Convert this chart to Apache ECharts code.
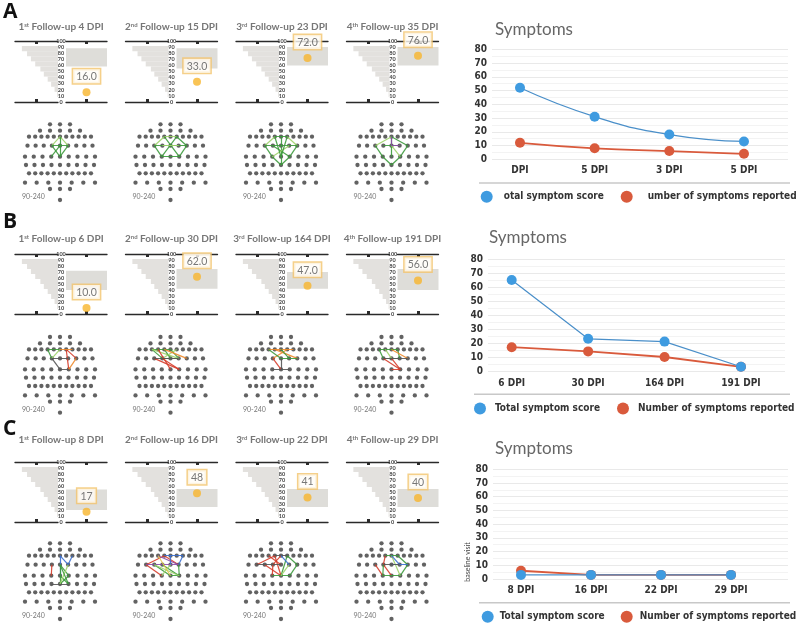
<!DOCTYPE html>
<html><head><meta charset="utf-8">
<script src="https://cdn.jsdelivr.net/npm/echarts@6/dist/echarts.min.js"></script>
<style>html,body{margin:0;padding:0;background:#fff}#c{width:800px;height:630px}</style>
</head><body><div id="c"></div>
<script>
// ---------------- DATA ----------------
const ordinalNums = ['1', '2', '3', '4'];
const ordinalSups = ['st', 'nd', 'rd', 'th'];
const followUpDaysA = [4, 15, 23, 35];
const followUpDaysB = [6, 30, 164, 191];
const followUpDaysC = [8, 16, 22, 29];
const scoreValuesA = [16, 33, 72, 76];
const scoreValuesB = [10, 62, 47, 56];
const scoreValuesC = [17, 48, 41, 40];
const scoreLabelsA = ['16.0', '33.0', '72.0', '76.0'];
const scoreLabelsB = ['10.0', '62.0', '47.0', '56.0'];
const scoreLabelsC = ['17', '48', '41', '40'];
const normalBandA = [[58, 88], [55, 88], [60, 90], [60, 90]];
const normalBandB = [[40, 72], [42, 75], [42, 70], [40, 75]];
const normalBandC = [[20, 54], [25, 55], [25, 55], [25, 55]];
const histBins = ['b0', 'b1', 'b2', 'b3', 'b4', 'b5', 'b6', 'b7', 'b8', 'b9', 'b10', 'b11'];
const histShares = [0, 0.02, 0.08, 0.16, 0.24, 0.33, 0.41, 0.53, 0.63, 0.72, 0.84, 0];
const rangeLabel = '90-240';

const symptomCatsA = ['DPI', '5 DPI', '3 DPI', '5 DPI'];
const totalScoreA = [52, 31, 18, 13];
const numSymptomsA = [12, 8, 6, 4];
const symptomCatsB = ['6 DPI', '30 DPI', '164 DPI', '191 DPI'];
const totalScoreB = [65, 23, 21, 3];
const numSymptomsB = [17, 14, 10, 3];
const symptomCatsC = ['8 DPI', '16 DPI', '22 DPI', '29 DPI'];
const totalScoreC = [3, 3, 3, 3];
const numSymptomsC = [6, 3, 3, 3];
const legendNamesA = ['otal symptom score', 'umber of symptoms reported'];
const legendNamesBC = ['Total symptom score', 'Number of symptoms reported'];

// connectivity edges: [row1, col1, row2, col2, colour]
const edgesA = [
  [[3,3,2,5,'lg'],[2,5,3,5,'lg'],[3,5,4,4,'g'],[4,4,3,3,'g'],[3,3,3,5,'g'],[2,5,4,4,'g'],[3,4,4,3,'g']],
  [[3,2,2,4,'lg'],[2,4,2,6,'lg'],[2,6,3,6,'g'],[3,6,4,5,'g'],[4,5,4,3,'g'],[4,3,3,2,'g'],[3,2,3,6,'g'],[2,4,4,5,'g'],[2,6,4,3,'g'],[3,3,3,5,'lg']],
  [[3,2,2,4,'lg'],[2,4,2,6,'g'],[2,6,3,6,'lg'],[3,6,4,5,'g'],[4,5,5,4,'g'],[5,4,4,3,'g'],[4,3,3,2,'g'],[3,2,3,6,'g'],[2,5,5,4,'g'],[3,3,4,5,'g'],[3,5,4,3,'lg'],[2,4,4,4,'g'],[2,6,4,4,'g']],
  [[3,2,2,5,'lg'],[2,5,3,6,'g'],[3,6,4,5,'g'],[4,5,5,4,'g'],[5,4,4,3,'g'],[4,3,3,2,'g'],[3,3,3,5,'g'],[2,5,4,4,'g'],[3,4,4,5,'lg'],[3,4,3,5,'p'],[2,5,3,4,'p']]
];
const edgesB = [
  [[2,3,3,3,'g'],[2,3,2,5,'g'],[3,3,2,5,'lg'],[2,6,3,6,'r'],[2,6,4,5,'r'],[3,6,4,5,'o'],[3,3,4,4,'d'],[4,4,4,5,'d'],[3,3,3,5,'d'],[2,5,2,7,'o']],
  [[2,2,2,5,'g'],[2,5,3,5,'g'],[3,5,3,3,'g'],[3,3,2,2,'g'],[2,2,3,5,'lg'],[2,4,3,4,'g'],[2,6,3,3,'lg'],[3,3,4,5,'r'],[3,2,4,5,'r'],[2,3,4,4,'r'],[2,4,3,6,'o'],[3,2,3,5,'d']],
  [[2,3,2,7,'o'],[2,4,3,6,'o'],[2,6,3,3,'o'],[2,3,3,4,'g'],[3,4,3,6,'g'],[2,5,3,5,'g'],[3,3,4,4,'r'],[3,4,4,4,'d'],[4,3,4,5,'d']],
  [[2,3,2,6,'g'],[2,6,3,5,'g'],[3,5,3,3,'g'],[3,3,2,3,'g'],[2,4,3,4,'lg'],[3,4,4,5,'r'],[3,3,4,5,'r'],[4,4,4,5,'r'],[2,5,3,6,'o'],[3,3,3,6,'d']]
];
const edgesC = [
  [[2,5,3,5,'b'],[3,5,2,7,'b'],[2,5,4,4,'b'],[3,4,4,5,'g'],[4,5,5,4,'g'],[5,4,3,4,'g'],[4,4,5,5,'g'],[3,5,5,4,'lg'],[3,4,5,5,'g'],[3,3,4,3,'r'],[5,3,5,5,'d']],
  [[3,1,2,4,'r'],[2,4,3,5,'r'],[3,1,4,3,'r'],[2,3,3,5,'p'],[3,1,3,5,'p'],[2,4,2,7,'b'],[2,7,3,5,'b'],[2,5,3,4,'b'],[3,2,4,4,'g'],[4,4,4,5,'g'],[4,5,3,5,'g'],[3,3,4,5,'g'],[3,2,4,5,'lg'],[4,3,3,4,'lg'],[2,3,4,4,'y']],
  [[3,1,2,4,'r'],[2,4,4,4,'r'],[3,2,4,4,'r'],[2,3,3,4,'r'],[3,3,4,3,'r'],[2,5,3,3,'r'],[2,6,3,6,'g'],[3,6,4,5,'g'],[4,5,4,3,'g'],[2,6,4,4,'g'],[3,5,4,4,'lg'],[2,4,2,6,'d'],[3,1,3,4,'d'],[2,5,3,5,'b']],
  [[2,4,3,3,'r'],[3,3,4,4,'r'],[3,2,4,3,'r'],[2,4,2,6,'g'],[2,6,3,6,'g'],[3,6,4,5,'g'],[4,5,4,3,'g'],[4,3,3,3,'g'],[2,5,4,5,'lg'],[2,5,3,5,'b'],[3,4,3,6,'b'],[3,3,3,5,'d']]
];

// ---------------- LAYOUT / STYLE ----------------
const FONT = 'Lato, "Noto Sans", sans-serif';
const COND = '"DejaVu Sans Condensed", "Liberation Sans Narrow", Roboto, sans-serif';
const edgeColors = {g:'#3c9a3c', lg:'#9ed36a', r:'#d63c2a', o:'#ee8a2a', d:'#555555', b:'#3a6fd0', p:'#8b4aa6', y:'#e6c84a'};
const electrodeRowCounts = [3, 5, 11, 9, 9, 9, 11, 7, 3, 1];
const electrodeRowHalf = [10, 20, 31, 32.5, 35, 34, 31, 35, 10, 0];
const electrodeRowY = [4, 10.4, 16.4, 25.4, 36.4, 44.7, 53, 62.4, 68.7, 79.7];
function E(r, c) {
  const n = electrodeRowCounts[r], h = electrodeRowHalf[r];
  const x = n === 1 ? 0 : -h + c * (2 * h / (n - 1));
  return [x, electrodeRowY[r]];
}
const electrodes = [];
electrodeRowCounts.forEach((n, r) => { for (let c = 0; c < n; c++) electrodes.push(E(r, c)); });

const colX0 = [15, 125.5, 236, 346.5];
const gaugeTop = [41, 254, 462], gaugeH = [61, 60, 60];
const titleY = [29, 241, 442], dotTop = [124.3, 337, 543.3];

const rowsData = [
  {days: followUpDaysA, vals: scoreValuesA, labs: scoreLabelsA, bands: normalBandA, edges: edgesA},
  {days: followUpDaysB, vals: scoreValuesB, labs: scoreLabelsB, bands: normalBandB, edges: edgesB},
  {days: followUpDaysC, vals: scoreValuesC, labs: scoreLabelsC, bands: normalBandC, edges: edgesC}
];

const grids = [], xAxes = [], yAxes = [], series = [], titles = [], legends = [], graphics = [];
const addGrid = g => (grids.push(g), grids.length - 1);
const addX = a => (xAxes.push(a), xAxes.length - 1);
const addY = a => (yAxes.push(a), yAxes.length - 1);

function lineAxis(gi, pos, inverse) {
  return {type: 'value', gridIndex: gi, position: pos, min: 0, max: 1, inverse: !!inverse,
    axisLine: {show: true, onZero: false, lineStyle: {color: '#2a2a2a', width: 1.3}},
    axisTick: {show: true, customValues: [0.5], inside: true, length: 3, lineStyle: {color: '#2a2a2a', width: 3}},
    axisLabel: {show: false}, splitLine: {show: false}};
}

const letters = ['A', 'B', 'C'];
const letterTop = [2, 212, 419];
letters.forEach((L, r) => titles.push({text: L, left: 3, top: letterTop[r], padding: 0,
  textStyle: {fontSize: 21, fontWeight: 'bold', color: '#111', fontFamily: '"Open Sans", "Liberation Sans", sans-serif'}}));

rowsData.forEach((rd, r) => {
  for (let i = 0; i < 4; i++) {
    const x0 = colX0[i];
    titles.push({
      text: `{n|${ordinalNums[i]}}{s|${ordinalSups[i]}}{t| Follow-up ${rd.days[i]} DPI}`,
      left: x0 + 46, top: titleY[r] - 7, textAlign: 'center', padding: 0,
      textStyle: {rich: {
        n: {fontSize: 10, color: '#777', fontFamily: FONT},
        s: {fontSize: 6, color: '#777', fontFamily: FONT, verticalAlign: 'top'},
        t: {fontSize: 10, color: '#777', fontFamily: FONT}
      }}
    });
    const gL = addGrid({left: x0, top: gaugeTop[r], width: 43, height: gaugeH[r]});
    const xb = addX(lineAxis(gL, 'bottom', true));
    addX(lineAxis(gL, 'top', true));
    const yl = addY({type: 'category', gridIndex: gL, data: histBins, show: false});
    series.push({type: 'bar', xAxisIndex: xb, yAxisIndex: yl, data: histShares, barCategoryGap: 0,
      itemStyle: {color: '#e3e1de'}, silent: true});
    const gR = addGrid({left: x0 + 51, top: gaugeTop[r], width: 41, height: gaugeH[r]});
    const xr = addX(lineAxis(gR, 'bottom'));
    addX(lineAxis(gR, 'top'));
    const yr = addY({type: 'value', gridIndex: gR, min: 0, max: 100, interval: 10,
      axisLine: {show: false}, axisTick: {show: false}, splitLine: {show: false},
      axisLabel: {fontSize: 5.5, fontWeight: 'bold', color: '#444', margin: 5, align: 'center', fontFamily: FONT}});
    series.push({type: 'scatter', xAxisIndex: xr, yAxisIndex: yr, symbolSize: 8,
      itemStyle: {color: '#f7b52c'}, silent: true,
      data: [{value: [0.5, rd.vals[i]], label: {formatter: rd.labs[i]}}],
      label: {show: true, position: 'top', distance: 5, backgroundColor: '#fffdf8', borderColor: '#f2c46d',
        borderWidth: 1.5, padding: [2, 3, 1, 3], fontSize: 10.5, color: '#555', fontFamily: FONT},
      markArea: {silent: true, itemStyle: {color: '#deddd9'}, data: [[{yAxis: rd.bands[i][0]}, {yAxis: rd.bands[i][1]}]]}
    });
    const gD = addGrid({left: x0 + 5, top: dotTop[r] - 4, width: 80, height: 84});
    const xd = addX({type: 'value', gridIndex: gD, min: -40, max: 40, show: false});
    const yd = addY({type: 'value', gridIndex: gD, min: 0, max: 84, inverse: true, show: false});
    series.push({type: 'scatter', xAxisIndex: xd, yAxisIndex: yd, data: electrodes, symbolSize: 4.3,
      itemStyle: {color: '#3b3b3b'}, silent: true, z: 2});
    series.push({type: 'lines', coordinateSystem: 'cartesian2d', xAxisIndex: xd, yAxisIndex: yd, silent: true, z: 3,
      lineStyle: {width: 1.2, opacity: 0.9},
      data: rd.edges[i].map(e => ({coords: [E(e[0], e[1]), E(e[2], e[3])], lineStyle: {color: edgeColors[e[4]]}}))});
    titles.push({text: rangeLabel, left: x0 + 7, top: dotTop[r] + 69, padding: 0,
      textStyle: {fontSize: 7, color: '#777', fontWeight: 'normal', fontFamily: FONT}});
  }
});

const symCharts = [
  {cats: symptomCatsA, total: totalScoreA, num: numSymptomsA, names: legendNamesA, smooth: true,
   grid: {left: 492, top: 49.3, width: 296, height: 110}, xmin: -0.375, xmax: 3.59, lm: 6,
   titleX: 495, titleY: 21, divY: 183, divX: 479,
   leg: [{left: 480.7, top: 190.7, pad: 6}, {left: 620.7, top: 190.7, pad: 10}]},
  {cats: symptomCatsB, total: totalScoreB, num: numSymptomsB, names: legendNamesBC, smooth: false,
   grid: {left: 488, top: 259, width: 297, height: 112}, xmin: -0.31, xmax: 3.576, lm: 7,
   titleX: 489, titleY: 229, divY: 394.3, divX: 474,
   leg: [{left: 474, top: 402.5, pad: 4}, {left: 617, top: 402.5, pad: 4}]},
  {cats: symptomCatsC, total: totalScoreC, num: numSymptomsC, names: legendNamesBC, smooth: false,
   grid: {left: 493, top: 469.3, width: 295, height: 109.7}, xmin: -0.4, xmax: 3.814, lm: 6,
   titleX: 495, titleY: 440, divY: 602.7, divX: 479,
   leg: [{left: 481.7, top: 610.7, pad: 1}, {left: 620.7, top: 610.7, pad: 2}]}
];
const BLUE = '#3f9be0', RED = '#d95a3c';
symCharts.forEach((sc, k) => {
  const g = addGrid(sc.grid);
  const xi = addX({type: 'value', gridIndex: g, min: sc.xmin, max: sc.xmax,
    axisLine: {show: false}, axisTick: {show: false}, splitLine: {show: false},
    axisLabel: {customValues: [0, 1, 2, 3], formatter: v => sc.cats[Math.round(v)], margin: sc.lm,
      fontFamily: COND, fontWeight: 'bold', fontSize: 10, color: '#333'}});
  const yi = addY({type: 'value', gridIndex: g, min: 0, max: 80, interval: 10,
    axisLine: {show: false}, axisTick: {show: false},
    axisLabel: {margin: 5, fontFamily: COND, fontWeight: 'bold', fontSize: 10, color: '#333'},
    splitLine: {lineStyle: {color: '#e9e9e9'}},
    minorTick: {show: false, splitNumber: 2}, minorSplitLine: {show: true, lineStyle: {color: '#f3f3f3'}}});
  series.push({type: 'line', name: sc.names[1], xAxisIndex: xi, yAxisIndex: yi, smooth: sc.smooth,
    data: sc.num.map((v, j) => [j, v]), symbol: 'circle', symbolSize: 10, z: 3,
    lineStyle: {color: RED, width: 1.8}, itemStyle: {color: RED}});
  series.push({type: 'line', name: sc.names[0], xAxisIndex: xi, yAxisIndex: yi, smooth: sc.smooth,
    data: sc.total.map((v, j) => [j, v]), symbol: 'circle', symbolSize: 10, z: 4,
    lineStyle: {color: '#4a8fc9', width: 1.2}, itemStyle: {color: BLUE}});
  titles.push({text: 'Symptoms', left: sc.titleX, top: sc.titleY, padding: 0,
    textStyle: {fontSize: 17, fontWeight: 'normal', color: '#666', fontFamily: FONT}});
  sc.leg.forEach((lg, j) => legends.push({data: [sc.names[j]], left: lg.left, top: lg.top, padding: 0,
    icon: 'circle', itemWidth: 12, itemHeight: 12, selectedMode: false,
    textStyle: {fontFamily: COND, fontWeight: 'bold', fontSize: 10, color: '#333', padding: [0, 0, 0, lg.pad]}}));
  graphics.push({type: 'line', silent: true, shape: {x1: sc.divX, y1: sc.divY, x2: 790, y2: sc.divY},
    style: {stroke: '#c8c8c8', lineWidth: 1.5}});
});
graphics.push({type: 'text', x: 468, y: 562, rotation: Math.PI / 2, silent: true,
  style: {text: 'baseline visit', fontSize: 7, fill: '#444', fontFamily: FONT, align: 'center', verticalAlign: 'middle'}});

const chart = echarts.init(document.getElementById('c'), null, {width: 800, height: 630});
chart.setOption({
  backgroundColor: '#ffffff', animation: false,
  title: titles, legend: legends, grid: grids, xAxis: xAxes, yAxis: yAxes, series: series, graphic: graphics
});
</script></body></html>
